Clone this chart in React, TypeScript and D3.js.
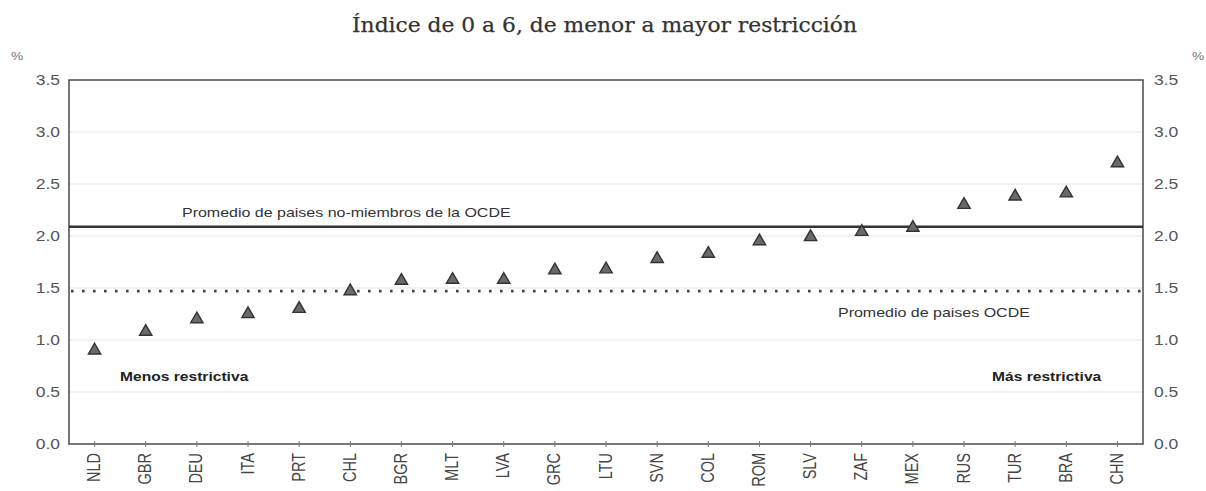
import React from "react";
import * as d3 from "d3";

const countries = ["NLD","GBR","DEU","ITA","PRT","CHL","BGR","MLT","LVA","GRC","LTU","SVN","COL","ROM","SLV","ZAF","MEX","RUS","TUR","BRA","CHN"];
const values = [0.90,1.08,1.20,1.25,1.30,1.47,1.57,1.58,1.58,1.67,1.68,1.78,1.83,1.95,1.99,2.04,2.08,2.30,2.38,2.41,2.70];
const yTicks = [0,0.5,1.0,1.5,2.0,2.5,3.0,3.5];
const nonOecdAvg = 2.09;
const oecdAvg = 1.47;
const title = "Índice de 0 a 6, de menor a mayor restricción";

const W = 1206, H = 491;
const L = 69, R = 1143, T = 80, B = 444;
const SX = 1.25;

export default function App() {
  const x = d3.scaleBand<string>().domain(countries).range([L, R]).paddingInner(0).paddingOuter(0);
  const y = d3.scaleLinear().domain([0, 3.5]).range([B, T]);
  const tri = d3.symbol().type(d3.symbolTriangle).size(66)();
  const sans = "'Liberation Sans', Arial, sans-serif";
  const st = (px: number, py: number) => `translate(${px},${py}) scale(${SX},1)`;
  return (
    <div>
      <style>{`body{margin:0;background:#fff}`}</style>
      <svg width={W} height={H} style={{ display: "block", background: "#fff" }}>
        <text x={604.5} y={32} textAnchor="middle" fontFamily="'DejaVu Serif', serif" fontSize={20} fill="#333" stroke="#333" strokeWidth={0.25} textLength={505} lengthAdjust="spacingAndGlyphs">{title}</text>
        {/* gridlines */}
        {yTicks.filter(t => t > 0 && t < 3.5).map(t => (
          <line key={"g" + t} x1={L} x2={R} y1={y(t)} y2={y(t)} stroke="#ececec" strokeWidth={1.5} />
        ))}
        {/* frame */}
        <rect x={L} y={T} width={R - L} height={B - T} fill="none" stroke="#555" strokeWidth={1.6} />
        {/* bottom ticks */}
        {countries.map(c => (
          <line key={"t" + c} x1={x(c)! + x.bandwidth() / 2} x2={x(c)! + x.bandwidth() / 2} y1={B - 3} y2={B + 3} stroke="#777" strokeWidth={1} />
        ))}
        {/* y labels */}
        {yTicks.map(t => (
          <g key={"yl" + t}>
            <text transform={st(60, y(t) + 5)} textAnchor="end" fontFamily={sans} fontSize={14} fill="#555">{t.toFixed(1)}</text>
            <text transform={st(1154, y(t) + 5)} textAnchor="start" fontFamily={sans} fontSize={14} fill="#555">{t.toFixed(1)}</text>
          </g>
        ))}
        <text transform={st(11, 60)} fontFamily={sans} fontSize={11} fill="#777">%</text>
        <text transform={st(1192, 60)} fontFamily={sans} fontSize={11} fill="#777">%</text>
        {/* averages */}
        <line x1={L} x2={R} y1={y(nonOecdAvg)} y2={y(nonOecdAvg)} stroke="#333" strokeWidth={2.5} />
        <line x1={L + 2} x2={R} y1={y(oecdAvg)} y2={y(oecdAvg)} stroke="#444" strokeWidth={2.6} strokeDasharray="2.6,8.4" />
        <text transform={st(182, 217)} fontFamily={sans} fontSize={12.8} fill="#333">Promedio de paises no-miembros de la OCDE</text>
        <text transform={st(838, 317)} fontFamily={sans} fontSize={12.8} fill="#333">Promedio de paises OCDE</text>
        <text transform={st(120, 381)} fontFamily={sans} fontSize={12.5} fontWeight="bold" fill="#222">Menos restrictiva</text>
        <text transform={st(992, 381)} fontFamily={sans} fontSize={12.5} fontWeight="bold" fill="#222">Más restrictiva</text>
        {/* points */}
        {countries.map((c, i) => (
          <path key={"p" + c} d={tri!} transform={`translate(${x(c)! + x.bandwidth() / 2},${y(values[i])})`} fill="#6a6a6a" stroke="#333" strokeWidth={1.4} />
        ))}
        {/* x labels */}
        {countries.map(c => (
          <text key={"xl" + c} transform={`translate(${x(c)! + x.bandwidth() / 2 + 5.5},${453}) scale(${SX},1) rotate(-90)`} textAnchor="end" fontFamily={sans} fontSize={14.5} fill="#444">{c}</text>
        ))}
      </svg>
    </div>
  );
}
